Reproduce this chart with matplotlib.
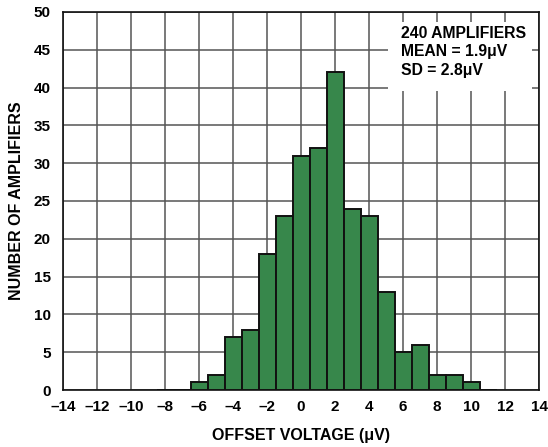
import numpy as np
import matplotlib.pyplot as plt
from matplotlib.patches import Rectangle

# Offset voltage bins (uV) and counts
offset_uV = [-8, -7, -6, -5, -4, -3, -2, -1, 0, 1, 2, 3, 4, 5, 6, 7, 8, 9, 10, 11]
counts = [0, 0, 1, 2, 7, 8, 18, 23, 31, 32, 42, 24, 23, 13, 5, 6, 2, 2, 1, 0]

x_ticks = np.arange(-14, 15, 2)
y_ticks = np.arange(0, 51, 5)
x_ticklabels = [str(v) for v in x_ticks]

info_lines = ["240 AMPLIFIERS", "MEAN = 1.9\u03bcV", "SD = 2.8\u03bcV"]

plt.rcParams['font.family'] = ['Liberation Sans', 'DejaVu Sans']
plt.rcParams['font.weight'] = 'bold'
plt.rcParams['axes.unicode_minus'] = False

fig = plt.figure(figsize=(5.48, 4.47), dpi=100)
ax = fig.add_axes([0.115, 0.1275, 0.8686, 0.8457])

ax.bar(offset_uV, counts, width=1.0, color='#37874b', edgecolor='#111111',
       linewidth=1.4, zorder=3)

ax.set_xlim(-14, 14)
ax.set_ylim(0, 50)
ax.set_xticks(x_ticks)
ax.set_xticklabels([l.replace('-', '\u2013') for l in x_ticklabels])
ax.set_yticks(y_ticks)
ax.grid(True, color='#555555', linewidth=1.1, zorder=1)
ax.set_axisbelow(True)
ax.tick_params(axis='both', length=0, labelsize=11)
ax.tick_params(axis='x', pad=7)
ax.tick_params(axis='y', pad=9)
for s in ax.spines.values():
    s.set_linewidth(1.2)
    s.set_color('#111111')

ax.set_xlabel('OFFSET VOLTAGE (\u03bcV)', fontsize=11.5, fontweight='bold', labelpad=10)
ax.set_ylabel('NUMBER OF AMPLIFIERS', fontsize=11.5, fontweight='bold', labelpad=7)

# white box behind the summary text
ax.add_patch(Rectangle((5.12, 39.6), 8.47, 9.1, facecolor='white',
                       edgecolor='none', zorder=4))
for i, line in enumerate(info_lines):
    ax.text(5.88, 47.2 - i * 2.45, line, fontsize=11.3, fontweight='bold',
            va='center', ha='left', zorder=5)

fig.savefig('out.png', dpi=100)
